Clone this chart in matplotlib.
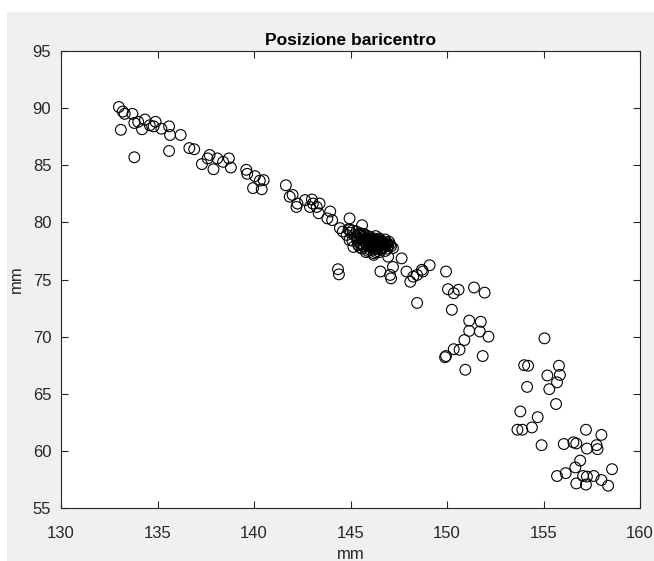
import numpy as np
import matplotlib as mpl
import matplotlib.pyplot as plt
from matplotlib.patches import Rectangle

mpl.rc('font', family=['Liberation Sans', 'DejaVu Sans'], size=12)

# centre of mass positions (mm)
x_top = [133.0, 133.2, 133.3, 133.7, 133.1, 133.8, 133.8, 134.0, 134.35, 134.2,
         134.6, 134.9, 134.8, 135.2, 135.6, 135.65, 136.2, 135.6, 136.65, 136.9,
         137.7, 137.6, 138.1, 137.3, 137.9, 138.4, 138.7, 138.8, 139.6, 139.65,
         140.05, 140.3, 140.5, 139.95, 140.4]
y_top = [90.1, 89.7, 89.5, 89.5, 88.1, 85.7, 88.7, 88.8, 89.0, 88.15,
         88.5, 88.8, 88.4, 88.2, 88.4, 87.65, 87.65, 86.25, 86.5, 86.4,
         85.9, 85.6, 85.6, 85.1, 84.65, 85.3, 85.6, 84.8, 84.6, 84.25,
         84.05, 83.65, 83.7, 83.0, 82.9]

x_mid = [141.65, 142.0, 141.85, 142.25, 142.2, 142.65, 143.0, 143.05, 143.4, 142.9,
         143.25, 143.35, 143.95, 143.8, 144.05, 144.95, 144.45, 144.6, 144.8, 145.6,
         144.95, 145.15, 144.95, 145.5, 147.2, 147.65, 146.2, 146.95, 146.55, 147.05,
         147.2, 147.1, 147.9, 148.25, 148.1, 148.45, 148.75, 149.1, 148.7, 144.35,
         144.4, 148.45]
y_mid = [83.25, 82.4, 82.25, 81.65, 81.35, 81.95, 82.0, 81.65, 81.65, 81.35,
         81.35, 80.8, 80.95, 80.35, 80.2, 80.35, 79.5, 79.2, 78.9, 79.75,
         78.45, 77.85, 79.35, 79.05, 77.75, 76.85, 77.15, 77.0, 75.7, 75.4,
         76.1, 75.1, 75.7, 75.25, 74.8, 75.4, 75.7, 76.25, 75.85, 75.9,
         75.45, 72.95]

x_core = [145.0, 145.2, 145.3, 145.4, 145.5, 145.5, 145.6, 145.7, 145.7, 145.8,
          145.8, 145.9, 145.9, 146.0, 146.0, 146.0, 146.1, 146.1, 146.1, 146.2,
          146.2, 146.2, 146.3, 146.3, 146.3, 146.4, 146.4, 146.4, 146.5, 146.5,
          146.5, 146.6, 146.6, 146.7, 146.7, 146.8, 146.8, 146.9, 146.9, 147.0,
          147.1, 145.1, 145.4, 145.6, 145.9, 146.3, 146.6, 146.8, 145.7, 146.0,
          146.2, 146.5, 146.7, 145.5, 145.8,
          144.9, 145.1, 145.3, 145.45, 145.65, 145.75, 145.85, 145.95, 146.05, 146.15,
          146.25, 146.35, 146.45, 146.55, 146.65, 146.75, 146.85, 146.95, 147.05, 145.35,
          145.55, 145.95, 146.15, 146.35, 146.55, 146.25, 146.05, 145.85]
y_core = [79.1, 78.9, 79.2, 78.6, 78.9, 78.2, 78.7, 78.4, 79.0, 78.1,
          78.6, 78.3, 78.8, 77.9, 78.4, 78.7, 78.1, 78.5, 77.8, 78.3,
          78.6, 77.6, 78.0, 78.4, 78.8, 77.7, 78.2, 78.5, 77.9, 78.3,
          78.6, 78.0, 78.4, 77.8, 78.2, 78.0, 78.5, 77.7, 78.1, 78.3,
          77.9, 78.4, 78.0, 77.7, 77.5, 77.4, 77.6, 77.5, 77.9, 77.6,
          77.3, 77.4, 77.8, 77.8, 77.4,
          79.4, 79.3, 78.8, 79.0, 78.5, 78.8, 78.5, 78.2, 78.55, 78.25,
          78.15, 78.35, 78.1, 78.25, 78.3, 78.05, 78.25, 77.95, 78.05, 78.4,
          78.05, 78.0, 77.9, 77.85, 77.7, 78.45, 78.25, 78.0]

x_low = [149.95, 150.05, 150.35, 150.6, 151.4, 151.95, 150.25, 151.15, 151.75, 151.15,
         151.7, 152.15, 150.9, 150.35, 150.65, 149.95, 149.9, 151.85, 150.95, 155.05,
         154.0, 154.2, 155.2, 154.15, 155.8, 155.85, 155.7, 155.3, 155.65, 153.8,
         154.7, 153.65, 153.9, 154.4, 154.9, 156.05, 156.55, 156.7, 157.2, 158.0,
         157.25, 157.75, 157.8, 156.9, 156.65, 158.55, 156.15, 155.7, 157.05, 157.25,
         157.6, 158.0, 156.7, 157.2, 158.35]
y_low = [75.7, 74.15, 73.8, 74.1, 74.3, 73.85, 72.35, 71.4, 71.3, 70.5,
         70.45, 70.0, 69.7, 68.9, 68.85, 68.3, 68.2, 68.3, 67.1, 69.85,
         67.5, 67.45, 66.6, 65.6, 67.45, 66.65, 66.0, 65.4, 64.1, 63.45,
         62.95, 61.85, 61.85, 62.05, 60.5, 60.6, 60.75, 60.65, 61.85, 61.4,
         60.2, 60.5, 60.15, 59.15, 58.55, 58.4, 58.05, 57.8, 57.8, 57.75,
         57.8, 57.45, 57.15, 57.05, 56.95]

xs = np.array(x_top + x_mid + x_core + x_low)
ys = np.array(y_top + y_mid + y_core + y_low)

fig = plt.figure(figsize=(6.54, 5.61), dpi=100, facecolor='white')
fig.add_artist(Rectangle((7 / 654, 0), 1, 1 - 12 / 561, transform=fig.transFigure,
                         facecolor='#f0f0f0', edgecolor='none', zorder=-10))
ax = fig.add_axes([61 / 654, 1 - 508 / 561, 579 / 654, 457 / 561])

ax.scatter(xs, ys, s=60, facecolors='none', edgecolors='k', linewidths=0.8)

ax.set_xlim(130, 160)
ax.set_ylim(55, 95)
ax.set_xticks(np.arange(130, 161, 5))
ax.set_yticks(np.arange(55, 96, 5))
ax.tick_params(direction='in', length=5, width=0.8, color='0.15', labelcolor='0.15',
               top=True, right=True)
ax.tick_params(axis='x', pad=13)
ax.tick_params(axis='y', pad=7)
for s in ax.spines.values():
    s.set_color('0.15')
    s.set_linewidth(0.8)

ax.set_xlabel('mm', color='0.15', labelpad=4)
ax.set_ylabel('mm', color='0.15', labelpad=6)
ax.set_title('Posizione baricentro', fontweight='bold', fontsize=12.5, color='k', pad=4)

fig.savefig('out.png', dpi=100, facecolor=fig.get_facecolor())
